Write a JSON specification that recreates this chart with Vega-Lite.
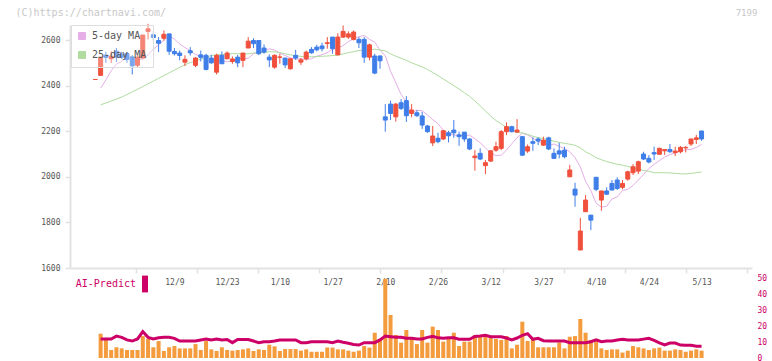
{
"$schema":"https://vega.github.io/schema/vega-lite/v6.json",
"width":682,"height":333,
"autosize":{"type":"none"},
"padding":{"left":70,"top":25,"right":20,"bottom":3},
"background":"#ffffff",
"config":{"view":{"stroke":null},"font":"DejaVu Sans Mono","axis":{"labelFont":"DejaVu Sans Mono","titleFont":"DejaVu Sans Mono"},"legend":{"labelFont":"DejaVu Sans Mono"}},
"data":{"values":[
{"i":-1,"o":2427,"h":2427,"l":2427,"c":2427,"v":null,"m5":null,"m25":null,"ai":null},
{"i":0,"o":2445,"h":2525,"l":2445,"c":2525,"v":15.2,"m5":2389,"m25":2316,"ai":11.9},
{"i":1,"o":2534,"h":2548,"l":2500,"c":2524,"v":11.9,"m5":2425,"m25":2324,"ai":11.9},
{"i":2,"o":2518,"h":2551,"l":2499,"c":2529,"v":5.0,"m5":2465,"m25":2332,"ai":11.9},
{"i":3,"o":2551,"h":2565,"l":2504,"c":2526,"v":6.7,"m5":2495,"m25":2341,"ai":13.7},
{"i":4,"o":2538,"h":2548,"l":2515,"c":2524,"v":6.0,"m5":2506,"m25":2350,"ai":12.9},
{"i":5,"o":2541,"h":2548,"l":2500,"c":2515,"v":5.0,"m5":2526,"m25":2361,"ai":11.3},
{"i":6,"o":2526,"h":2534,"l":2449,"c":2487,"v":5.0,"m5":2524,"m25":2373,"ai":10.6},
{"i":7,"o":2489,"h":2534,"l":2480,"c":2525,"v":5.0,"m5":2516,"m25":2384,"ai":11.9},
{"i":8,"o":2521,"h":2622,"l":2521,"c":2622,"v":13.7,"m5":2515,"m25":2396,"ai":16.5},
{"i":9,"o":2638,"h":2671,"l":2603,"c":2649,"v":11.9,"m5":2535,"m25":2408,"ai":12.9},
{"i":10,"o":2623,"h":2638,"l":2598,"c":2611,"v":6.7,"m5":2560,"m25":2420,"ai":11.9},
{"i":11,"o":2598,"h":2613,"l":2547,"c":2586,"v":10.6,"m5":2579,"m25":2432,"ai":12.7},
{"i":12,"o":2608,"h":2642,"l":2598,"c":2625,"v":4.4,"m5":2599,"m25":2444,"ai":12.9},
{"i":13,"o":2627,"h":2627,"l":2535,"c":2551,"v":6.7,"m5":2619,"m25":2456,"ai":12.9},
{"i":14,"o":2550,"h":2565,"l":2532,"c":2540,"v":7.5,"m5":2604,"m25":2468,"ai":12.3},
{"i":15,"o":2543,"h":2554,"l":2511,"c":2532,"v":6.0,"m5":2583,"m25":2480,"ai":10.6},
{"i":16,"o":2503,"h":2533,"l":2486,"c":2515,"v":6.0,"m5":2567,"m25":2492,"ai":10.6},
{"i":17,"o":2553,"h":2569,"l":2532,"c":2544,"v":6.0,"m5":2553,"m25":2501,"ai":10.6},
{"i":18,"o":2489,"h":2525,"l":2481,"c":2521,"v":8.7,"m5":2536,"m25":2508,"ai":10.6},
{"i":19,"o":2535,"h":2554,"l":2506,"c":2524,"v":5.0,"m5":2530,"m25":2516,"ai":11.3},
{"i":20,"o":2533,"h":2540,"l":2467,"c":2471,"v":10.6,"m5":2527,"m25":2524,"ai":11.9},
{"i":21,"o":2521,"h":2535,"l":2496,"c":2500,"v":5.4,"m5":2515,"m25":2532,"ai":11.3},
{"i":22,"o":2459,"h":2540,"l":2449,"c":2533,"v":4.4,"m5":2512,"m25":2535,"ai":11.9},
{"i":23,"o":2533,"h":2550,"l":2496,"c":2496,"v":6.7,"m5":2510,"m25":2536,"ai":11.3},
{"i":24,"o":2518,"h":2550,"l":2515,"c":2543,"v":5.0,"m5":2505,"m25":2536,"ai":11.6},
{"i":25,"o":2506,"h":2528,"l":2496,"c":2517,"v":4.6,"m5":2509,"m25":2541,"ai":9.6},
{"i":26,"o":2525,"h":2535,"l":2481,"c":2500,"v":5.0,"m5":2518,"m25":2540,"ai":11.6},
{"i":27,"o":2511,"h":2543,"l":2481,"c":2543,"v":5.4,"m5":2518,"m25":2539,"ai":11.6},
{"i":28,"o":2565,"h":2613,"l":2565,"c":2595,"v":6.0,"m5":2520,"m25":2540,"ai":11.6},
{"i":29,"o":2598,"h":2608,"l":2565,"c":2584,"v":4.4,"m5":2540,"m25":2543,"ai":10.6},
{"i":30,"o":2598,"h":2600,"l":2534,"c":2540,"v":5.4,"m5":2548,"m25":2545,"ai":9.6},
{"i":31,"o":2565,"h":2581,"l":2540,"c":2547,"v":5.0,"m5":2552,"m25":2546,"ai":10.2},
{"i":32,"o":2525,"h":2537,"l":2481,"c":2513,"v":8.3,"m5":2562,"m25":2549,"ai":10.2},
{"i":33,"o":2481,"h":2537,"l":2474,"c":2533,"v":7.3,"m5":2556,"m25":2548,"ai":10.6},
{"i":34,"o":2524,"h":2540,"l":2496,"c":2526,"v":4.4,"m5":2543,"m25":2545,"ai":11.3},
{"i":35,"o":2521,"h":2521,"l":2477,"c":2491,"v":5.6,"m5":2532,"m25":2540,"ai":11.3},
{"i":36,"o":2474,"h":2518,"l":2470,"c":2518,"v":5.6,"m5":2522,"m25":2535,"ai":11.3},
{"i":37,"o":2533,"h":2557,"l":2513,"c":2521,"v":5.6,"m5":2516,"m25":2532,"ai":11.3},
{"i":38,"o":2503,"h":2521,"l":2491,"c":2513,"v":4.6,"m5":2518,"m25":2528,"ai":9.6},
{"i":39,"o":2518,"h":2554,"l":2511,"c":2547,"v":5.4,"m5":2514,"m25":2526,"ai":9.6},
{"i":40,"o":2559,"h":2569,"l":2540,"c":2544,"v":3.9,"m5":2518,"m25":2527,"ai":10.2},
{"i":41,"o":2569,"h":2579,"l":2550,"c":2557,"v":3.9,"m5":2529,"m25":2527,"ai":10.2},
{"i":42,"o":2574,"h":2588,"l":2550,"c":2562,"v":3.9,"m5":2536,"m25":2529,"ai":10.2},
{"i":43,"o":2585,"h":2613,"l":2562,"c":2588,"v":6.5,"m5":2545,"m25":2530,"ai":10.2},
{"i":44,"o":2613,"h":2613,"l":2540,"c":2562,"v":6.5,"m5":2560,"m25":2532,"ai":9.6},
{"i":45,"o":2535,"h":2630,"l":2533,"c":2613,"v":5.4,"m5":2563,"m25":2534,"ai":10.6},
{"i":46,"o":2613,"h":2664,"l":2609,"c":2638,"v":5.4,"m5":2576,"m25":2539,"ai":9.8},
{"i":47,"o":2613,"h":2638,"l":2605,"c":2627,"v":4.6,"m5":2593,"m25":2545,"ai":9.2},
{"i":48,"o":2603,"h":2642,"l":2598,"c":2635,"v":3.9,"m5":2606,"m25":2549,"ai":8.5},
{"i":49,"o":2603,"h":2613,"l":2565,"c":2588,"v":4.6,"m5":2615,"m25":2554,"ai":8.1},
{"i":50,"o":2603,"h":2613,"l":2500,"c":2525,"v":7.5,"m5":2620,"m25":2556,"ai":9.6},
{"i":51,"o":2525,"h":2584,"l":2511,"c":2579,"v":6.5,"m5":2603,"m25":2556,"ai":9.6},
{"i":52,"o":2530,"h":2540,"l":2450,"c":2455,"v":15.8,"m5":2591,"m25":2560,"ai":9.6},
{"i":53,"o":2530,"h":2533,"l":2474,"c":2509,"v":11.3,"m5":2556,"m25":2556,"ai":11.3},
{"i":54,"o":2263,"h":2319,"l":2198,"c":2249,"v":49.4,"m5":2531,"m25":2553,"ai":13.7},
{"i":55,"o":2319,"h":2334,"l":2249,"c":2278,"v":26.9,"m5":2463,"m25":2539,"ai":13.3},
{"i":56,"o":2263,"h":2324,"l":2242,"c":2319,"v":14.4,"m5":2413,"m25":2529,"ai":12.9},
{"i":57,"o":2325,"h":2341,"l":2293,"c":2300,"v":9.6,"m5":2361,"m25":2520,"ai":12.9},
{"i":58,"o":2334,"h":2354,"l":2241,"c":2268,"v":17.5,"m5":2330,"m25":2511,"ai":12.3},
{"i":59,"o":2278,"h":2319,"l":2261,"c":2293,"v":11.9,"m5":2283,"m25":2500,"ai":12.3},
{"i":60,"o":2281,"h":2293,"l":2263,"c":2268,"v":8.7,"m5":2292,"m25":2491,"ai":11.9},
{"i":61,"o":2267,"h":2285,"l":2210,"c":2227,"v":17.5,"m5":2290,"m25":2482,"ai":11.9},
{"i":62,"o":2223,"h":2227,"l":2193,"c":2198,"v":9.6,"m5":2271,"m25":2471,"ai":12.9},
{"i":63,"o":2149,"h":2223,"l":2135,"c":2179,"v":19.6,"m5":2251,"m25":2458,"ai":13.5},
{"i":64,"o":2169,"h":2193,"l":2147,"c":2154,"v":17.5,"m5":2233,"m25":2444,"ai":12.6},
{"i":65,"o":2166,"h":2205,"l":2161,"c":2202,"v":10.2,"m5":2205,"m25":2429,"ai":12.3},
{"i":66,"o":2193,"h":2202,"l":2151,"c":2180,"v":11.9,"m5":2192,"m25":2415,"ai":12.6},
{"i":67,"o":2205,"h":2249,"l":2171,"c":2193,"v":15.8,"m5":2183,"m25":2400,"ai":12.6},
{"i":68,"o":2184,"h":2198,"l":2136,"c":2176,"v":7.5,"m5":2182,"m25":2385,"ai":11.7},
{"i":69,"o":2196,"h":2196,"l":2154,"c":2166,"v":10.2,"m5":2181,"m25":2369,"ai":11.7},
{"i":70,"o":2166,"h":2169,"l":2117,"c":2122,"v":10.2,"m5":2183,"m25":2353,"ai":11.7},
{"i":71,"o":2084,"h":2117,"l":2027,"c":2091,"v":14.4,"m5":2167,"m25":2333,"ai":13.5},
{"i":72,"o":2103,"h":2125,"l":2073,"c":2078,"v":13.7,"m5":2150,"m25":2311,"ai":13.7},
{"i":73,"o":2049,"h":2074,"l":2012,"c":2062,"v":13.7,"m5":2127,"m25":2289,"ai":14.2},
{"i":74,"o":2069,"h":2117,"l":2066,"c":2114,"v":12.9,"m5":2104,"m25":2266,"ai":13.3},
{"i":75,"o":2117,"h":2154,"l":2110,"c":2132,"v":11.9,"m5":2093,"m25":2247,"ai":13.3},
{"i":76,"o":2125,"h":2205,"l":2117,"c":2198,"v":11.3,"m5":2095,"m25":2232,"ai":13.3},
{"i":77,"o":2198,"h":2239,"l":2183,"c":2220,"v":13.7,"m5":2117,"m25":2216,"ai":12.5},
{"i":78,"o":2220,"h":2224,"l":2195,"c":2198,"v":6.0,"m5":2145,"m25":2207,"ai":11.3},
{"i":79,"o":2196,"h":2253,"l":2195,"c":2205,"v":8.3,"m5":2172,"m25":2195,"ai":12.5},
{"i":80,"o":2176,"h":2179,"l":2091,"c":2095,"v":22.7,"m5":2191,"m25":2193,"ai":14.2},
{"i":81,"o":2113,"h":2142,"l":2105,"c":2132,"v":10.6,"m5":2183,"m25":2186,"ai":15.2},
{"i":82,"o":2154,"h":2173,"l":2114,"c":2147,"v":11.9,"m5":2170,"m25":2178,"ai":11.7},
{"i":83,"o":2166,"h":2173,"l":2139,"c":2157,"v":6.7,"m5":2155,"m25":2172,"ai":12.3},
{"i":84,"o":2139,"h":2176,"l":2136,"c":2161,"v":6.7,"m5":2147,"m25":2168,"ai":10.8},
{"i":85,"o":2171,"h":2176,"l":2117,"c":2122,"v":6.7,"m5":2138,"m25":2162,"ai":10.6},
{"i":86,"o":2103,"h":2125,"l":2081,"c":2081,"v":6.7,"m5":2144,"m25":2156,"ai":10.6},
{"i":87,"o":2114,"h":2149,"l":2081,"c":2100,"v":9.6,"m5":2134,"m25":2151,"ai":10.6},
{"i":88,"o":2117,"h":2132,"l":2081,"c":2088,"v":6.0,"m5":2124,"m25":2147,"ai":10.6},
{"i":89,"o":2000,"h":2052,"l":2000,"c":2030,"v":13.3,"m5":2110,"m25":2143,"ai":9.6},
{"i":90,"o":1946,"h":1974,"l":1869,"c":1920,"v":13.7,"m5":2084,"m25":2138,"ai":9.6},
{"i":91,"o":1679,"h":1820,"l":1679,"c":1762,"v":24.4,"m5":2044,"m25":2127,"ai":9.6},
{"i":92,"o":1847,"h":1920,"l":1847,"c":1898,"v":15.8,"m5":1980,"m25":2110,"ai":9.6},
{"i":93,"o":1832,"h":1832,"l":1766,"c":1810,"v":11.3,"m5":1940,"m25":2098,"ai":10.2},
{"i":94,"o":1998,"h":1999,"l":1937,"c":1945,"v":11.9,"m5":1884,"m25":2084,"ai":11.3},
{"i":95,"o":1898,"h":1938,"l":1851,"c":1938,"v":6.0,"m5":1867,"m25":2075,"ai":10.2},
{"i":96,"o":1938,"h":1954,"l":1920,"c":1924,"v":5.0,"m5":1871,"m25":2067,"ai":10.6},
{"i":97,"o":1971,"h":1986,"l":1942,"c":1942,"v":5.4,"m5":1903,"m25":2061,"ai":10.6},
{"i":98,"o":1986,"h":1998,"l":1942,"c":1949,"v":5.4,"m5":1912,"m25":2055,"ai":11.3},
{"i":99,"o":1954,"h":1986,"l":1945,"c":1971,"v":3.4,"m5":1940,"m25":2051,"ai":11.7},
{"i":100,"o":1990,"h":2027,"l":1983,"c":2022,"v":4.6,"m5":1945,"m25":2045,"ai":11.25},
{"i":101,"o":2018,"h":2056,"l":2008,"c":2044,"v":7.5,"m5":1962,"m25":2041,"ai":11.25},
{"i":102,"o":2025,"h":2071,"l":2012,"c":2066,"v":6.7,"m5":1986,"m25":2034,"ai":11.25},
{"i":103,"o":2100,"h":2110,"l":2074,"c":2078,"v":6.0,"m5":2010,"m25":2028,"ai":11.8},
{"i":104,"o":2081,"h":2095,"l":2059,"c":2065,"v":5.0,"m5":2036,"m25":2024,"ai":12.3},
{"i":105,"o":2106,"h":2132,"l":2074,"c":2100,"v":6.0,"m5":2055,"m25":2018,"ai":11.0},
{"i":106,"o":2099,"h":2128,"l":2096,"c":2125,"v":6.5,"m5":2071,"m25":2018,"ai":9.5},
{"i":107,"o":2114,"h":2122,"l":2096,"c":2120,"v":4.6,"m5":2087,"m25":2018,"ai":8.2},
{"i":108,"o":2120,"h":2144,"l":2106,"c":2110,"v":4.6,"m5":2098,"m25":2017,"ai":9.3},
{"i":109,"o":2106,"h":2132,"l":2091,"c":2113,"v":5.4,"m5":2104,"m25":2015,"ai":9.3},
{"i":110,"o":2110,"h":2135,"l":2103,"c":2129,"v":5.0,"m5":2114,"m25":2013,"ai":8.1},
{"i":111,"o":2127,"h":2135,"l":2107,"c":2129,"v":3.9,"m5":2119,"m25":2013,"ai":8.0},
{"i":112,"o":2144,"h":2166,"l":2135,"c":2166,"v":4.6,"m5":2120,"m25":2015,"ai":7.9},
{"i":113,"o":2164,"h":2184,"l":2144,"c":2171,"v":5.4,"m5":2129,"m25":2018,"ai":7.4},
{"i":114,"o":2201,"h":2201,"l":2158,"c":2166,"v":4.6,"m5":2142,"m25":2021,"ai":7.4}
]},
"resolve":{"scale":{"y":"independent"},"axis":{"x":"independent","y":"independent"}},
"layer":[
{
"encoding":{"x":{"field":"i","type":"quantitative","scale":{"domain":[-4.86,122.62],"nice":false,"zero":false},"axis":{"orient":"bottom","offset":-90,"values":[14,24,34,44,54,64,74,84,94,104,114],"labelExpr":"['12/9','12/23','1/10','1/27','2/10','2/26','3/12','3/27','4/10','4/24','5/13'][round((datum.value-14)/10)]","domain":false,"ticks":false,"tickSize":0,"grid":false,"title":null,"labelColor":"#555555","labelFontSize":8,"labelPadding":10}}},
"layer":[
{"mark":{"type":"line","strokeWidth":1},"encoding":{"y":{"field":"m5","type":"quantitative","scale":{"domain":[1600,2666],"range":[243,0],"nice":false,"zero":false},"axis":{"orient":"left","values":[1600,1800,2000,2200,2400,2600],"format":"d","domainColor":"#e2e2e2","domainWidth":2,"tickColor":"#e2e2e2","tickWidth":1.5,"tickSize":5,"labelColor":"#555555","labelFontSize":8,"labelPadding":5,"grid":false,"title":"(C)https://chartnavi.com/","titleAngle":0,"titleX":-55,"titleY":-13,"titleAlign":"left","titleBaseline":"middle","titleColor":"#c8c8c8","titleFontSize":10,"titleFontWeight":"normal"}},"color":{"datum":"5-day MA","type":"nominal","scale":{"domain":["5-day MA","25-day MA"],"range":["#e6aee6","#b0dca0"]},"legend":{"orient":"none","legendX":1,"legendY":0,"title":null,"direction":"vertical","symbolType":"square","symbolSize":49,"labelFontSize":10,"labelColor":"#555555","labelOffset":5,"padding":6,"rowPadding":7,"fillColor":"rgba(255,255,255,0.3)","strokeColor":"#dddddd","encode":{"symbols":{"update":{"fill":{"scale":"color","field":"value"},"stroke":{"value":"#777777"},"strokeWidth":{"value":1},"opacity":{"value":1}}}}}}}},
{"mark":{"type":"line","strokeWidth":1},"encoding":{"y":{"field":"m25","type":"quantitative","scale":{"domain":[1600,2666],"range":[243,0],"nice":false,"zero":false},"axis":{"orient":"left","values":[1600,1800,2000,2200,2400,2600],"format":"d","domainColor":"#e2e2e2","domainWidth":2,"tickColor":"#e2e2e2","tickWidth":1.5,"tickSize":5,"labelColor":"#555555","labelFontSize":8,"labelPadding":5,"grid":false,"title":"(C)https://chartnavi.com/","titleAngle":0,"titleX":-55,"titleY":-13,"titleAlign":"left","titleBaseline":"middle","titleColor":"#c8c8c8","titleFontSize":10,"titleFontWeight":"normal"}},"color":{"datum":"25-day MA","type":"nominal"}}},
{"mark":{"type":"rule","strokeWidth":1},"encoding":{"y":{"field":"l","type":"quantitative","scale":{"domain":[1600,2666],"range":[243,0],"nice":false,"zero":false},"axis":{"orient":"left","values":[1600,1800,2000,2200,2400,2600],"format":"d","domainColor":"#e2e2e2","domainWidth":2,"tickColor":"#e2e2e2","tickWidth":1.5,"tickSize":5,"labelColor":"#555555","labelFontSize":8,"labelPadding":5,"grid":false,"title":"(C)https://chartnavi.com/","titleAngle":0,"titleX":-55,"titleY":-13,"titleAlign":"left","titleBaseline":"middle","titleColor":"#c8c8c8","titleFontSize":10,"titleFontWeight":"normal"}},"y2":{"field":"h"},"stroke":{"condition":{"test":"datum.c>=datum.o","value":"#f0503c"},"value":"#3f7ee8"}}},
{"mark":{"type":"bar","size":4,"strokeWidth":1},"encoding":{"y":{"field":"o","type":"quantitative","scale":{"domain":[1600,2666],"range":[243,0],"nice":false,"zero":false},"axis":{"orient":"left","values":[1600,1800,2000,2200,2400,2600],"format":"d","domainColor":"#e2e2e2","domainWidth":2,"tickColor":"#e2e2e2","tickWidth":1.5,"tickSize":5,"labelColor":"#555555","labelFontSize":8,"labelPadding":5,"grid":false,"title":"(C)https://chartnavi.com/","titleAngle":0,"titleX":-55,"titleY":-13,"titleAlign":"left","titleBaseline":"middle","titleColor":"#c8c8c8","titleFontSize":10,"titleFontWeight":"normal"}},"y2":{"field":"c"},"fill":{"condition":{"test":"datum.c>=datum.o","value":"#f0503c"},"value":"#3f7ee8"},"stroke":{"condition":{"test":"datum.c>=datum.o","value":"#f0503c"},"value":"#3f7ee8"}}}
]
},
{
"encoding":{"x":{"field":"i","type":"quantitative","scale":{"domain":[-4.86,122.62],"nice":false,"zero":false},"axis":{"orient":"bottom","offset":-90,"values":[6.727,18.315,29.902,41.489,53.077,64.664,76.251,87.838,99.426,111.013,122.6],"labels":false,"domain":true,"domainColor":"#e2e2e2","domainWidth":2,"ticks":true,"tickColor":"#e2e2e2","tickWidth":1.5,"tickSize":5,"grid":false,"title":null}}},
"layer":[
{"mark":{"type":"bar","size":4,"color":"#f39b3d"},"encoding":{"y":{"field":"v","type":"quantitative","scale":{"domain":[0,50],"range":[333,253],"nice":false,"zero":true},"axis":{"orient":"right","values":[0,10,20,30,40,50],"domain":false,"ticks":false,"grid":false,"labelColor":"#cc0066","labelFontSize":8,"labelPadding":5,"title":"7199","titleAngle":0,"titleX":-6,"titleY":-13,"titleAlign":"center","titleBaseline":"middle","titleColor":"#c8c8c8","titleFontSize":9,"titleFontWeight":"normal"}}}},
{"mark":{"type":"line","strokeWidth":3},"encoding":{"y":{"field":"ai","type":"quantitative","scale":{"domain":[0,50],"range":[333,253],"nice":false,"zero":true},"axis":{"orient":"right","values":[0,10,20,30,40,50],"domain":false,"ticks":false,"grid":false,"labelColor":"#cc0066","labelFontSize":8,"labelPadding":5,"title":"7199","titleAngle":0,"titleX":-6,"titleY":-13,"titleAlign":"center","titleBaseline":"middle","titleColor":"#c8c8c8","titleFontSize":9,"titleFontWeight":"normal"}},"stroke":{"datum":"AI-Predict","type":"nominal","scale":{"domain":["AI-Predict"],"range":["#cc0066"]},"legend":{"orient":"none","legendX":70,"legendY":254,"title":null,"symbolType":"M-1,-2.8L1,-2.8L1,2.8L-1,2.8Z","symbolSize":36,"labelFontSize":10,"labelColor":"#cc0066","labelAlign":"right","labelOffset":-14,"encode":{"symbols":{"update":{"fill":{"value":"#cc0066"},"stroke":{"value":"#cc0066"},"strokeWidth":{"value":0}}}}}}}}
]
}
]
}
